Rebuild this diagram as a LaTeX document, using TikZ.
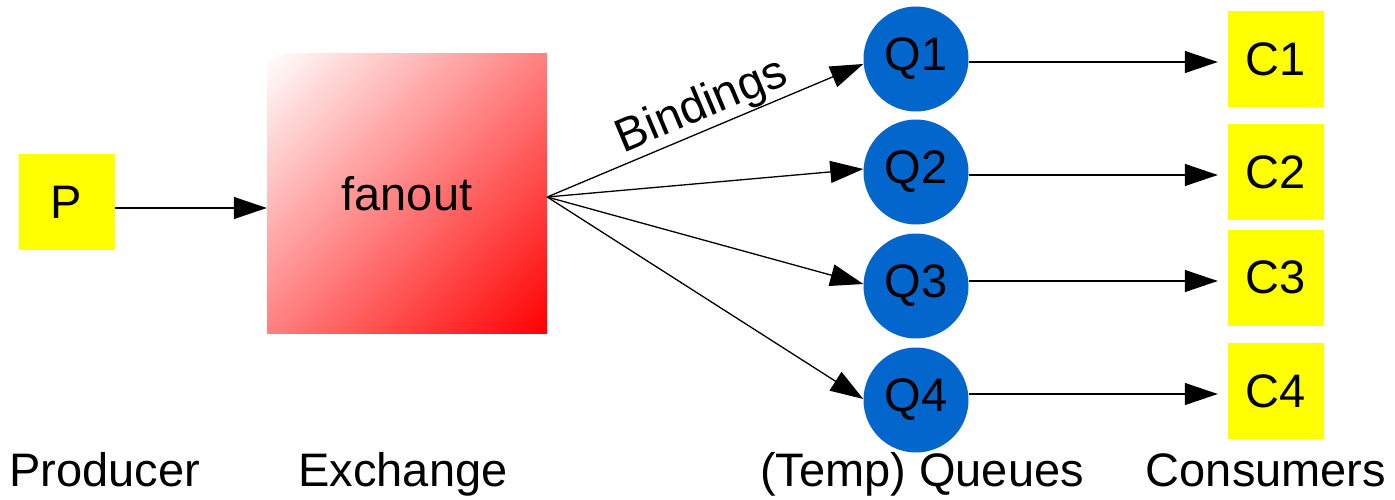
\documentclass[tikz,border=0pt]{standalone}
\usepackage{fontspec}
\setmainfont{Liberation Sans}
\usetikzlibrary{arrows.meta,shadings,calc}
\definecolor{qblue}{RGB}{2,102,204}
\definecolor{ylw}{RGB}{255,255,0}
\begin{document}
\begin{tikzpicture}[x=1pt,y=-1pt,
  every node/.style={font=\fontsize{47}{56}\selectfont, inner sep=0pt},
  ybox/.style={fill=ylw, minimum width=96pt, minimum height=96pt},
  queue/.style={circle, fill=qblue, minimum size=105pt},
  arr/.style={-{Triangle[length=33pt,width=22pt]}, line width=1.3pt},
  lbl/.style={anchor=base}]
\useasboundingbox (0,0) rectangle (1395,500);
\node[ybox] (P) at (66.5,202) {P};
\node[minimum width=280pt, minimum height=279pt, upper left=white, lower right=red, upper right=red!50!white, lower left=red!50!white] (X) at (407,193.5) {fanout};
\node[queue] (Q1) at (916,59) {Q1};
\node[queue] (Q2) at (916,172) {Q2};
\node[queue] (Q3) at (916,286) {Q3};
\node[queue] (Q4) at (916,400) {Q4};
\node[ybox] (C1) at (1276,59) {C1};
\node[ybox] (C2) at (1276,172) {C2};
\node[ybox] (C3) at (1276,277.5) {C3};
\node[ybox] (C4) at (1276,391) {C4};
\coordinate (F) at ($(X.east)+(0,3.5)$);
\draw[arr] ($(P.east)+(0,6)$) -- ($(P.east -| X.west)+(0,6)$);
\draw[arr] (F) -- ($(Q1.west)+(0,5)$);
\draw[arr] (F) -- ($(Q2.west)+(0,-3)$);
\draw[arr] (F) -- ($(Q3.west)+(0,-2)$);
\draw[arr] (F) -- ($(Q4.west)+(0,-1)$);
\draw[arr, shorten >=10pt] ($(Q1.east)+(0,3)$) -- ($(Q1.east -| C1.west)+(0,3)$);
\draw[arr, shorten >=10pt] ($(Q2.east)+(0,3)$) -- ($(Q2.east -| C2.west)+(0,3)$);
\draw[arr, shorten >=10pt] ($(Q3.east)+(0,-5)$) -- ($(Q3.east -| C3.west)+(0,-5)$);
\draw[arr, shorten >=10pt] ($(Q4.east)+(0,-6)$) -- ($(Q4.east -| C4.west)+(0,-6)$);
\node[rotate=22.8] (B) at (702,107) {Bindings};
\node[lbl] (LP) at (104.5,486) {Producer};
\node[lbl] (LX) at (403,486) {Exchange};
\node[lbl] (LQ) at (922,486) {(Temp) Queues};
\node[lbl] (LC) at (1266,486) {Consumers};
\end{tikzpicture}
\end{document}
